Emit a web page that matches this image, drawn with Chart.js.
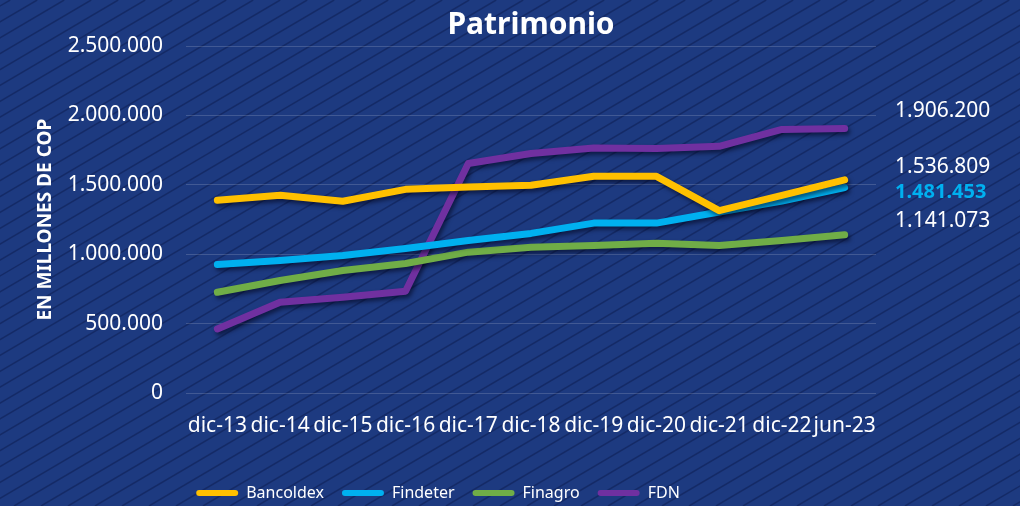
<!DOCTYPE html>
<html>
<head>
<meta charset="utf-8">
<script src="https://cdn.jsdelivr.net/npm/chart.js@4.4.0/dist/chart.umd.min.js"></script>
<style>
  html, body { margin: 0; padding: 0; background: #1d3a80; }
  #wrap { position: relative; width: 1020px; height: 506px; }
</style>
</head>
<body>
<div id="wrap"><canvas id="chart" width="1020" height="506"></canvas></div>
<script>
// data (millones de COP)
const categories = ['dic-13','dic-14','dic-15','dic-16','dic-17','dic-18','dic-19','dic-20','dic-21','dic-22','jun-23'];
const bancoldex = [1389000, 1425000, 1382000, 1468000, 1485000, 1497000, 1562000, 1562000, 1315000, 1425000, 1536809];
const findeter  = [927000, 956000, 992000, 1042000, 1100000, 1151000, 1225000, 1225000, 1305000, 1384000, 1481453];
const finagro   = [727000, 812000, 884000, 934000, 1016000, 1052000, 1064000, 1081000, 1064000, 1100000, 1141073];
const fdn       = [463000, 655000, 691000, 735000, 1654000, 1726000, 1766000, 1762000, 1778000, 1899000, 1906200];
const yTicks = [0, 500000, 1000000, 1500000, 2000000, 2500000];

const fmt = v => String(v).replace(/\B(?=(\d{3})+(?!\d))/g, '.');
const FONT = "'Noto Sans', sans-serif";

// dark blue with diagonal stripes
const bgPlugin = {
  id: 'bg',
  beforeDraw(chart) {
    const c = chart.ctx, w = chart.width, h = chart.height;
    c.save();
    c.fillStyle = '#1d3a80';
    c.fillRect(0, 0, w, h);
    c.strokeStyle = 'rgba(10,25,70,0.45)';
    c.lineWidth = 1.5;
    for (let k = -h * 2; k < w + h; k += 27) {
      c.beginPath();
      c.moveTo(k, h);
      c.lineTo(k + h * 1.7, 0);
      c.stroke();
    }
    c.restore();
  }
};

const shadowPlugin = {
  id: 'shadow',
  beforeDatasetsDraw(chart) {
    const c = chart.ctx;
    c.save();
    c.shadowColor = 'rgba(0,0,20,0.55)';
    c.shadowBlur = 4;
    c.shadowOffsetX = 2;
    c.shadowOffsetY = 3;
  },
  afterDatasetsDraw(chart) {
    chart.ctx.restore();
  }
};

// title centered on plot and end value labels on the right
const textPlugin = {
  id: 'texts',
  afterDraw(chart) {
    const c = chart.ctx, a = chart.chartArea, y = chart.scales.y;
    c.save();
    c.fillStyle = '#ffffff';
    c.font = "bold 30px " + FONT;
    c.textAlign = 'center';
    c.textBaseline = 'middle';
    c.fillText('Patrimonio', (a.left + a.right) / 2, 25);

    const ends = [
      { v: fdn[fdn.length - 1], dy: -17, color: '#ffffff', bold: false },
      { v: bancoldex[bancoldex.length - 1], dy: -13, color: '#ffffff', bold: false },
      { v: findeter[findeter.length - 1], dy: 5, color: '#00b0f0', bold: true },
      { v: finagro[finagro.length - 1], dy: -14, color: '#ffffff', bold: false }
    ];
    c.textAlign = 'left';
    ends.forEach(e => {
      c.fillStyle = e.color;
      c.font = (e.bold ? 'bold 20px ' : '21px ') + FONT;
      c.fillText(fmt(e.v), a.right + 19, y.getPixelForValue(e.v) + e.dy);
    });
    c.restore();
  }
};

function series(label, data, color) {
  return {
    label: label,
    data: data,
    borderColor: color,
    backgroundColor: color,
    borderWidth: 7,
    pointRadius: 0,
    borderCapStyle: 'round',
    borderJoinStyle: 'round',
    tension: 0
  };
}

new Chart(document.getElementById('chart'), {
  type: 'line',
  data: {
    labels: categories,
    datasets: [
      series('Bancoldex', bancoldex, '#ffc000'),
      series('Findeter', findeter, '#00b0f0'),
      series('Finagro', finagro, '#70ad47'),
      series('FDN', fdn, '#7030a0')
    ]
  },
  options: {
    responsive: false,
    animation: false,
    layout: { padding: { top: 46, right: 144, left: 0, bottom: -5 } },
    plugins: {
      title: { display: false },
      tooltip: { enabled: false },
      legend: {
        position: 'bottom',
        labels: {
          color: '#ffffff',
          font: { family: FONT, size: 16 },
          boxWidth: 42,
          boxHeight: 6,
          useBorderRadius: true,
          borderRadius: 3,
          padding: 18,
          generateLabels: chart => Chart.defaults.plugins.legend.labels.generateLabels(chart).map(l => ({ ...l, lineWidth: 0 }))
        }
      }
    },
    scales: {
      x: {
        offset: true,
        border: { display: false },
        grid: { display: false },
        ticks: { color: '#ffffff', font: { family: FONT, size: 21 }, padding: 12, autoSkip: false, maxRotation: 0 },
        afterFit: s => { s.height += 16.5; }
      },
      y: {
        min: 0,
        max: 2500000,
        border: { display: false },
        grid: { color: 'rgba(255,255,255,0.16)', lineWidth: 1, drawTicks: false },
        afterBuildTicks: s => { s.ticks = yTicks.map(v => ({ value: v })); },
        afterFit: s => { s.width = 186; },
        ticks: { color: '#ffffff', font: { family: FONT, size: 21 }, padding: 23, callback: v => fmt(v) },
        title: { display: true, text: 'EN MILLONES DE COP', color: '#ffffff', font: { family: FONT, size: 19, weight: 'bold' }, padding: { top: 34, bottom: 0 } }
      }
    }
  },
  plugins: [bgPlugin, shadowPlugin, textPlugin]
});
</script>
</body>
</html>
